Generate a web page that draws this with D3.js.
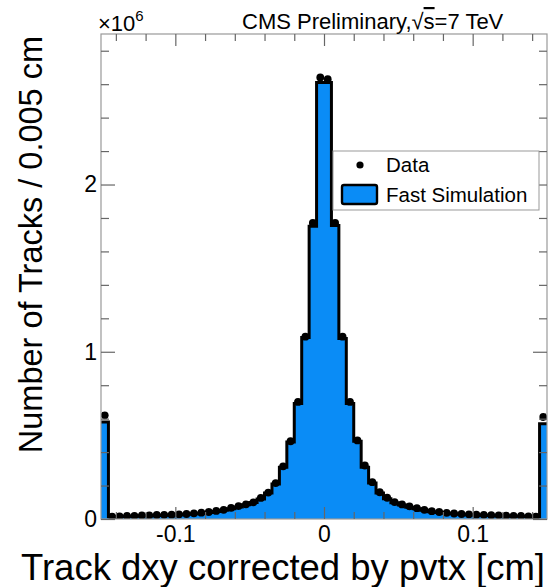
<html>
    <head>
        <meta charset="utf-8">
        <style>
            body { margin: 0; background: #fff; }
            text { font-family: "Liberation Sans", Arial, sans-serif; fill: #000; }
        </style>
    </head>
    <body>
        <script src="https://d3js.org/d3.v7.min.js"></script>
        <div id="my_dataviz"></div>

        <script type='text/JavaScript'>

            // bin edges: 60 bins of 0.005 cm from -0.15 to 0.15 (edge bins hold under/overflow)
            var binLow = d3.range(60).map(function(i) { return -0.15 + 0.005 * i; });

            // Fast Simulation (x10^6 tracks)
            var simValues = [
                0.58, 0.013, 0.015, 0.016, 0.017, 0.019, 0.020, 0.021, 0.023, 0.024,
                0.026, 0.028, 0.031, 0.035, 0.039, 0.045, 0.052, 0.062, 0.072, 0.085,
                0.098, 0.120, 0.155, 0.210, 0.310, 0.460, 0.690, 1.085, 1.750, 2.610,
                2.610, 1.755, 1.080, 0.690, 0.465, 0.310, 0.215, 0.155, 0.121, 0.097,
                0.084, 0.071, 0.061, 0.052, 0.044, 0.039, 0.034, 0.031, 0.028, 0.026,
                0.024, 0.023, 0.021, 0.020, 0.019, 0.017, 0.016, 0.015, 0.014, 0.57
            ];

            // Data (x10^6 tracks)
            var dataValues = [
                0.62, 0.014, 0.016, 0.018, 0.019, 0.021, 0.022, 0.024, 0.025, 0.026,
                0.028, 0.030, 0.034, 0.038, 0.042, 0.048, 0.055, 0.066, 0.077, 0.088,
                0.100, 0.126, 0.158, 0.215, 0.315, 0.465, 0.700, 1.090, 1.770, 2.640,
                2.630, 1.770, 1.090, 0.700, 0.470, 0.320, 0.220, 0.160, 0.127, 0.101,
                0.087, 0.076, 0.065, 0.055, 0.047, 0.042, 0.037, 0.033, 0.030, 0.028,
                0.026, 0.025, 0.023, 0.022, 0.020, 0.019, 0.018, 0.016, 0.014, 0.61
            ];

            var xMajor = [-0.1, 0, 0.1];
            var xMajorLabels = ["-0.1", "0", "0.1"];
            var xMinor = [-0.14, -0.12, -0.08, -0.06, -0.04, -0.02, 0.02, 0.04, 0.06, 0.08, 0.12, 0.14];
            var yMajor = [0, 1, 2];
            var yMajorLabels = ["0", "1", "2"];
            var yMinor = [0.2, 0.4, 0.6, 0.8, 1.2, 1.4, 1.6, 1.8, 2.2, 2.4, 2.6, 2.8];

            var fillColor = "#0a8cf6";

            // frame (avoid global names like "top")
            var W = 549, H = 587;
            var fLeft = 101, fRight = 547, fTop = 34, fBottom = 519;

            var svg = d3.select("#my_dataviz")
                .append("svg")
                    .attr("width", W)
                    .attr("height", H);

            var x = d3.scaleLinear()
                .domain([-0.15, 0.15])
                .range([fLeft, fRight]);

            var y = d3.scaleLinear()
                .domain([0, 2.9])
                .range([fBottom, fTop]);

            svg.append("clipPath").attr("id", "frameclip")
                .append("rect")
                    .attr("x", fLeft).attr("y", fTop)
                    .attr("width", fRight - fLeft).attr("height", fBottom - fTop);

            var plot = svg.append("g").attr("clip-path", "url(#frameclip)");

            // histogram points for step curves
            var steps = binLow.map(function(b, i) { return [b, simValues[i]]; });
            steps.push([0.15, simValues[simValues.length - 1]]);

            plot.append("path")
                .datum(steps)
                .attr("fill", fillColor)
                .attr("d", d3.area()
                    .curve(d3.curveStepAfter)
                    .x(function(d) { return x(d[0]); })
                    .y0(y(0))
                    .y1(function(d) { return y(d[1]); })
                );

            plot.append("path")
                .datum(steps)
                .attr("fill", "none")
                .attr("stroke", "#000")
                .attr("stroke-width", 3)
                .attr("d", d3.line()
                    .curve(d3.curveStepAfter)
                    .x(function(d) { return x(d[0]); })
                    .y(function(d) { return y(d[1]); })
                );

            // data markers at bin centres
            plot.selectAll("circle.data")
                .data(dataValues)
                .enter()
                .append("circle")
                    .attr("class", "data")
                    .attr("cx", function(d, i) { return x(binLow[i] + 0.0025); })
                    .attr("cy", function(d) { return y(d); })
                    .attr("r", 3.9)
                    .attr("fill", "#000");

            // frame box
            svg.append("rect")
                .attr("x", fLeft).attr("y", fTop)
                .attr("width", fRight - fLeft).attr("height", fBottom - fTop)
                .attr("fill", "none")
                .attr("stroke", "#999")
                .attr("stroke-width", 1.2);

            function styleAxis(g, size) {
                g.select(".domain").remove();
                g.selectAll(".tick line").attr("stroke", "#666").attr("stroke-width", 1.2);
                g.selectAll(".tick text").style("font-size", size + "px")
                    .style("font-family", "'Liberation Sans', Arial, sans-serif");
            }

            // X axes (ticks inside frame)
            svg.append("g")
                .attr("transform", "translate(0," + fBottom + ")")
                .call(d3.axisBottom(x).tickValues(xMajor).tickSize(-12).tickPadding(7)
                    .tickFormat(function(d, i) { return xMajorLabels[i]; }))
                .call(styleAxis, 23);
            svg.append("g")
                .attr("transform", "translate(0," + fBottom + ")")
                .call(d3.axisBottom(x).tickValues(xMinor).tickSize(-7).tickFormat(""))
                .call(styleAxis, 23);
            svg.append("g")
                .attr("transform", "translate(0," + fTop + ")")
                .call(d3.axisTop(x).tickValues(xMajor).tickSize(-12).tickFormat(""))
                .call(styleAxis, 23);
            svg.append("g")
                .attr("transform", "translate(0," + fTop + ")")
                .call(d3.axisTop(x).tickValues(xMinor).tickSize(-7).tickFormat(""))
                .call(styleAxis, 23);

            // Y axes
            svg.append("g")
                .attr("transform", "translate(" + fLeft + ",0)")
                .call(d3.axisLeft(y).tickValues(yMajor).tickSize(-14).tickPadding(4)
                    .tickFormat(function(d, i) { return yMajorLabels[i]; }))
                .call(styleAxis, 23);
            svg.append("g")
                .attr("transform", "translate(" + fLeft + ",0)")
                .call(d3.axisLeft(y).tickValues(yMinor).tickSize(-8).tickFormat(""))
                .call(styleAxis, 23);
            svg.append("g")
                .attr("transform", "translate(" + fRight + ",0)")
                .call(d3.axisRight(y).tickValues(yMajor).tickSize(-14).tickFormat(""))
                .call(styleAxis, 23);
            svg.append("g")
                .attr("transform", "translate(" + fRight + ",0)")
                .call(d3.axisRight(y).tickValues(yMinor).tickSize(-8).tickFormat(""))
                .call(styleAxis, 23);

            // exponent label
            var expo = svg.append("text")
                .attr("x", 98).attr("y", 31)
                .style("font-size", "22px");
            expo.append("tspan").text("\u00d710");
            expo.append("tspan").attr("dy", -10).style("font-size", "15px").text("6");

            // title
            var title = svg.append("text")
                .attr("x", 242).attr("y", 29)
                .style("font-size", "22px");
            title.append("tspan").text("CMS Preliminary,\u221a");
            title.append("tspan").style("text-decoration", "overline").text("s");
            title.append("tspan").text("=7 TeV");

            // axis titles
            svg.append("text")
                .attr("x", 545).attr("y", 580)
                .attr("text-anchor", "end")
                .style("font-size", "36.5px")
                .text("Track dxy corrected by pvtx [cm]");

            svg.append("text")
                .attr("transform", "translate(42,36) rotate(-90)")
                .attr("text-anchor", "end")
                .style("font-size", "32.5px")
                .text("Number of Tracks / 0.005 cm");

            // legend
            var legend = svg.append("g");
            legend.append("rect")
                .attr("x", 333).attr("y", 151)
                .attr("width", 206).attr("height", 59)
                .attr("fill", "#fff")
                .attr("stroke", "#999")
                .attr("stroke-width", 1);
            legend.append("circle")
                .attr("cx", 360).attr("cy", 165).attr("r", 3.6).attr("fill", "#000");
            legend.append("text")
                .attr("x", 386).attr("y", 172)
                .style("font-size", "20.5px")
                .text("Data");
            legend.append("rect")
                .attr("x", 342).attr("y", 185)
                .attr("width", 35).attr("height", 19)
                .attr("rx", 2)
                .attr("fill", fillColor)
                .attr("stroke", "#000")
                .attr("stroke-width", 2.4);
            legend.append("text")
                .attr("x", 386).attr("y", 202)
                .style("font-size", "20.5px")
                .text("Fast Simulation");
        </script>
    </body>
</html>
